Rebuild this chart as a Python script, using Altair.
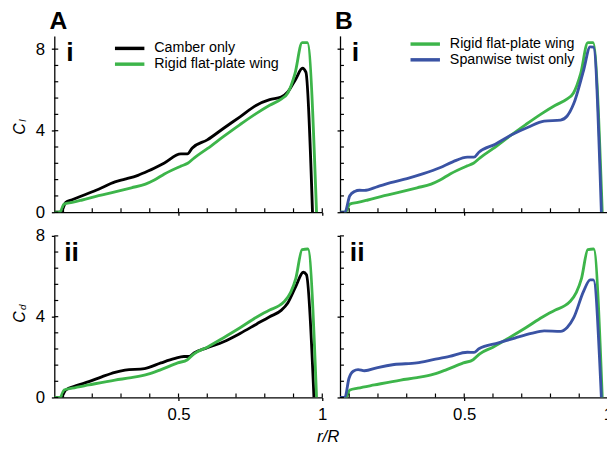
import altair as alt
import pandas as pd

FONT = "Liberation Sans"
GREEN = "#3db54a"
BLUE = "#3a53a4"
BLACK = "#000000"

# ---------------- data ----------------
# Lift coefficient C_l
cl_camber_x = [0.068, 0.090, 0.108, 0.130, 0.165, 0.222, 0.279, 0.314, 0.359, 0.394, 0.451, 0.508, 0.531,
               0.548, 0.600, 0.657, 0.714, 0.771, 0.817, 0.857, 0.880, 0.908, 0.931, 0.943, 0.966]
cl_camber_y = [0, 0, 0.48, 0.61, 0.81, 1.13, 1.49, 1.62, 1.81, 2.02, 2.42, 2.86, 2.86,
               3.15, 3.55, 4.12, 4.68, 5.25, 5.52, 5.65, 5.90, 6.54, 7.06, 6.87, 0]

cl_rigid_x = [0.068, 0.087, 0.102, 0.130, 0.165, 0.222, 0.279, 0.336, 0.385, 0.416, 0.451, 0.508, 0.532,
              0.555, 0.600, 0.657, 0.714, 0.771, 0.817, 0.857, 0.880, 0.905, 0.930, 0.948, 0.980]
cl_rigid_y = [0, 0, 0.40, 0.48, 0.60, 0.81, 1.00, 1.20, 1.38, 1.58, 1.88, 2.26, 2.40,
              2.67, 3.12, 3.72, 4.30, 4.85, 5.25, 5.55, 5.85, 6.80, 8.32, 8.32, 0]

cl_twist_x = [0.068, 0.085, 0.102, 0.119, 0.136, 0.153, 0.199, 0.244, 0.301, 0.358, 0.415, 0.460, 0.511,
              0.534, 0.551, 0.608, 0.665, 0.722, 0.778, 0.835, 0.858, 0.881, 0.915, 0.938, 0.949, 0.977]
cl_twist_y = [0, 0, 0.81, 1.02, 1.08, 1.07, 1.26, 1.45, 1.65, 1.89, 2.18, 2.47, 2.70,
              2.70, 2.94, 3.34, 3.80, 4.17, 4.47, 4.52, 4.72, 5.33, 6.95, 8.11, 8.10, 0]

# Drag coefficient C_d
cd_camber_x = [0.068, 0.090, 0.108, 0.142, 0.188, 0.233, 0.279, 0.314, 0.382, 0.439, 0.485, 0.519, 0.537,
               0.554, 0.600, 0.657, 0.714, 0.771, 0.817, 0.857, 0.880, 0.908, 0.934, 0.945, 0.971]
cd_camber_y = [0, 0, 0.37, 0.57, 0.78, 1.02, 1.24, 1.35, 1.43, 1.71, 1.92, 2.03, 2.03,
               2.20, 2.46, 2.76, 3.17, 3.63, 4.00, 4.31, 4.68, 5.50, 6.20, 6.07, 0]

cd_rigid_x = [0.068, 0.088, 0.102, 0.130, 0.188, 0.279, 0.336, 0.394, 0.439, 0.497, 0.531, 0.554, 0.600,
              0.657, 0.714, 0.771, 0.817, 0.847, 0.869, 0.890, 0.908, 0.930, 0.950, 0.980]
cd_rigid_y = [0, 0, 0.37, 0.46, 0.62, 0.86, 0.98, 1.15, 1.38, 1.71, 1.87, 2.16, 2.49,
              2.96, 3.45, 3.97, 4.33, 4.52, 4.76, 5.20, 5.90, 7.32, 7.35, 0]

cd_twist_x = [0.068, 0.085, 0.099, 0.114, 0.131, 0.153, 0.199, 0.256, 0.335, 0.392, 0.449, 0.511, 0.534,
              0.551, 0.619, 0.676, 0.733, 0.778, 0.835, 0.858, 0.881, 0.915, 0.938, 0.949, 0.977]
cd_twist_y = [0, 0, 0.94, 1.30, 1.38, 1.32, 1.48, 1.63, 1.71, 1.87, 2.03, 2.24, 2.23,
              2.41, 2.70, 2.94, 3.17, 3.30, 3.27, 3.46, 3.95, 5.25, 5.82, 5.82, 0]

NAME_CAMBER = "Camber only"
NAME_RIGID = "Rigid flat-plate wing"
NAME_TWIST = "Spanwise twist only"

x_minor_ticks = [0.1, 0.2, 0.3, 0.4, 0.5, 0.6, 0.7, 0.8, 0.9, 1.0]
x_major_ticks = [0.5, 1.0]
y_minor_ticks = [0, 0.8, 1.6, 2.4, 3.2, 4.0, 4.8, 5.6, 6.4, 7.2, 8.0]
y_major_ticks = [0, 4, 8]

X_DOMAIN = [0.068, 1.0]
W = 272
H_TOP = 179
H_BOT = 164


def series_df(name, xs, ys):
    return pd.DataFrame({"x": xs, "y": ys, "series": name})


def panel(series, ydom, h, show_ylabels, show_xlabels, legend, title, roman, roman_x, ysym, ysub,
          cy=0, sub_dy=-9, rr=False):
    df = pd.concat([series_df(n, xs, ys) for n, xs, ys, c in series], ignore_index=True)
    names = [s[0] for s in series]
    colors = [s[3] for s in series]

    xscale = alt.Scale(domain=X_DOMAIN, nice=False, zero=False)
    yscale = alt.Scale(domain=ydom, nice=False, zero=False)
    xax = alt.Axis(values=x_major_ticks, labels=show_xlabels, format="~g", tickSize=3,
                   labelPadding=6, labelFlush=False, title=None, grid=False)
    yax = alt.Axis(values=y_major_ticks, labels=show_ylabels, tickSize=3, labelPadding=7,
                   labelFlush=False, title=None, grid=False)

    if legend is None:
        leg = None
    else:
        lx, ly = legend
        leg = alt.Legend(orient="none", legendX=lx, legendY=ly, title=None,
                         symbolType="M-2.6,0H2.6", symbolSize=132, symbolStrokeWidth=3.5,
                         labelFont=FONT, labelFontSize=14.5, labelColor=BLACK,
                         labelOffset=17.5, rowPadding=0, padding=0)

    lines = alt.Chart(df).mark_line(strokeWidth=2.9, interpolate="monotone", clip=True).encode(
        x=alt.X("x:Q", scale=xscale, axis=xax),
        y=alt.Y("y:Q", scale=yscale, axis=yax),
        color=alt.Color("series:N", scale=alt.Scale(domain=names, range=colors), legend=leg),
    )

    xt = alt.Chart(pd.DataFrame({"x": x_minor_ticks})).mark_rule(color=BLACK, strokeWidth=1.2).encode(
        x=alt.X("x:Q", scale=xscale, axis=xax),
        y=alt.value(h), y2=alt.value(h - 4),
    )
    yt = alt.Chart(pd.DataFrame({"y": y_minor_ticks})).mark_rule(color=BLACK, strokeWidth=1.2).encode(
        y=alt.Y("y:Q", scale=yscale, axis=yax),
        x=alt.value(0), x2=alt.value(4),
    )

    rom = alt.Chart(pd.DataFrame({"t": [roman]})).mark_text(
        font=FONT, fontSize=27, fontWeight="bold", align="left", baseline="alphabetic", color=BLACK
    ).encode(text="t:N", x=alt.value(roman_x), y=alt.value(25))

    csym = alt.Chart(pd.DataFrame({"t": [ysym]})).mark_text(
        font=FONT, fontSize=16, fontStyle="italic", angle=270, align="center", baseline="middle", color=BLACK
    ).encode(text="t:N", x=alt.value(-35), y=alt.value(cy))
    csub = alt.Chart(pd.DataFrame({"t": [ysub]})).mark_text(
        font=FONT, fontSize=10, fontStyle="italic", angle=270, align="center", baseline="middle", color=BLACK
    ).encode(text="t:N", x=alt.value(-32), y=alt.value(cy + sub_dy))

    layers = [lines, xt, yt, rom]
    if show_ylabels:
        layers += [csym, csub]
    if rr:
        layers.append(alt.Chart(pd.DataFrame({"t": ["r/R"]})).mark_text(
            font=FONT, fontSize=17, fontStyle="italic", align="center", baseline="alphabetic", color=BLACK
        ).encode(text="t:N", x=alt.value(278), y=alt.value(209)))

    props = dict(width=W, height=h)
    if title:
        props["title"] = alt.TitleParams(text=title, anchor="start", frame="group", fontSize=25,
                                         fontWeight="bold", font=FONT, color=BLACK, offset=2, dx=-5)
    return alt.layer(*layers).properties(**props)


tl = panel([(NAME_CAMBER, cl_camber_x, cl_camber_y, BLACK), (NAME_RIGID, cl_rigid_x, cl_rigid_y, GREEN)],
           [0, 8.65], H_TOP, True, False, (69, 5.2), "A", "i", 12, "C", "l", cy=94.5, sub_dy=-8.5)
tr = panel([(NAME_RIGID, cl_rigid_x, cl_rigid_y, GREEN), (NAME_TWIST, cl_twist_x, cl_twist_y, BLUE)],
           [0, 8.65], H_TOP, False, False, (79, 0.8), "B", "i", 12, "C", "l")
bl = panel([(NAME_CAMBER, cd_camber_x, cd_camber_y, BLACK), (NAME_RIGID, cd_rigid_x, cd_rigid_y, GREEN)],
           [0, 8], H_BOT, True, True, None, None, "ii", 10, "C", "d", cy=82.5, sub_dy=-10, rr=True)
br = panel([(NAME_RIGID, cd_rigid_x, cd_rigid_y, GREEN), (NAME_TWIST, cd_twist_x, cd_twist_y, BLUE)],
           [0, 8], H_BOT, False, True, None, None, "ii", 10, "C", "d")

chart = alt.concat(tl, tr, bl, br, columns=2, spacing={"row": 24, "column": 18}, bounds="flush").resolve_scale(
    color="independent", x="independent", y="independent"
).properties(
    padding={"left": 4, "top": -2, "right": -6, "bottom": 0}
).configure_view(stroke=None).configure_axis(
    domainColor=BLACK, domainWidth=1.3, tickColor=BLACK, tickWidth=1.3,
    labelFont=FONT, labelFontSize=17, labelColor=BLACK,
)

chart.save("out.html", embed_options={"renderer": "svg", "actions": False})
